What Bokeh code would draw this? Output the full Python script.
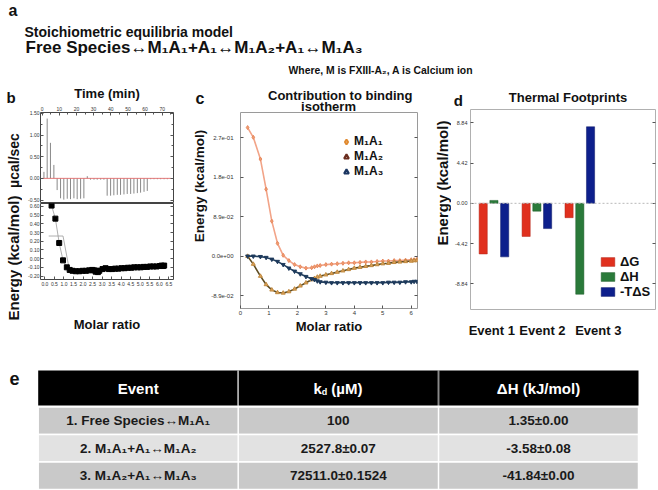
import math
from bokeh.plotting import figure
from bokeh.models import (Range1d, LinearAxis, FixedTicker, NumeralTickFormatter,
                          Label, Legend, LegendItem, Span, ColumnDataSource)
from bokeh.layouts import row, column
from bokeh.transform import dodge
from bokeh.core.properties import value
from bokeh.embed import file_html
from bokeh.resources import INLINE

FONT = "Liberation Sans"
INK = "#111111"
NAN = float("nan")

# ---------------- data ----------------
# panel b (top): raw thermogram, time in min, power in ucal/sec
inj_time = [1.0, 2.9, 4.8, 6.8, 8.7, 10.7, 12.6, 14.6, 16.5, 18.5, 20.4, 22.4, 24.3,
            26.3, 28.2, 30.2, 32.1, 34.1, 36.0, 37.9, 39.9, 41.8, 43.8, 45.7, 47.7,
            49.6, 51.6, 53.5, 55.5, 57.4, 59.4, 61.3, 63.3, 65.2, 67.2, 69.1, 71.1, 73.0]
inj_peak = [0.15, 1.38, 0.82, 0.31, -0.27, -0.46, -0.49, -0.47, -0.48, -0.46, -0.48, -0.47, -0.46,
            0.05, -0.03, -0.03, -0.03, -0.03, -0.03, -0.40, -0.40, -0.39, -0.38, -0.38, -0.37,
            -0.36, -0.36, -0.35, -0.34, -0.33, -0.31, -0.29, -0.02, -0.02, -0.02, -0.02, -0.02, -0.02]
base_time = [0, 75]
base_power = [0, 0]
time_ticks = [0, 10, 20, 30, 40, 50, 60, 70]
time_minor = [5, 15, 25, 35, 45, 55, 65, 75]
power_ticks = [-0.5, 0.0, 0.5, 1.0, 1.5]
power_minor = [-0.25, 0.25, 0.75, 1.25]

# panel b (bottom): integrated heats
ratio_b = [0.35, 0.55, 0.75, 0.95, 1.15, 1.30, 1.45, 1.62, 1.80, 1.98, 2.15, 2.32, 2.48, 2.58,
           2.66, 2.72, 2.78, 2.85, 3.02, 3.18, 3.35, 3.52, 3.68, 3.85, 4.02, 4.18, 4.35, 4.52,
           4.68, 4.85, 5.02, 5.18, 5.35, 5.52, 5.68, 5.85, 6.02, 6.12, 6.20, 6.25]
heat_b = [0.61, 0.46, 0.18, -0.02, -0.10, -0.13, -0.14, -0.145, -0.145, -0.14, -0.14, -0.135,
          -0.13, -0.135, -0.15, -0.14, -0.155, -0.14, -0.12, -0.11, -0.12, -0.12, -0.115, -0.115,
          -0.11, -0.11, -0.105, -0.105, -0.10, -0.10, -0.10, -0.095, -0.095, -0.09, -0.09, -0.09,
          -0.085, -0.08, -0.085, -0.08]
fit_b_x = [0.2, 0.95, 1.3]
fit_b_y = [0.26, 0.26, -0.15]
ratio_ticks = [0.0, 0.5, 1.0, 1.5, 2.0, 2.5, 3.0, 3.5, 4.0, 4.5, 5.0, 5.5, 6.0, 6.5]
heat_ticks = [-0.2, -0.1, 0.0, 0.1, 0.2, 0.3, 0.4, 0.5, 0.6]

# panel c: contribution to binding isotherm
c_ratio = [0.25, 0.45, 0.7, 0.9, 1.1, 1.3, 1.5, 1.7, 1.9, 2.1, 2.3, 2.5, 2.6, 2.7, 2.8,
           3.0, 3.2, 3.4, 3.6, 3.8, 4.0, 4.2, 4.4, 4.6, 4.8, 5.0, 5.2, 5.4, 5.6, 5.8, 6.0, 6.1, 6.2]
c_m1a1 = [0.290, 0.268, 0.219, 0.151, 0.079, 0.029, 0.002, -0.010, -0.019, -0.024, -0.027,
          -0.026, -0.024, -0.022, -0.021, -0.019, -0.018, -0.017, -0.016, -0.015, -0.015,
          -0.014, -0.013, -0.013, -0.012, -0.011, -0.011, -0.010, -0.010, -0.009, -0.008,
          -0.008, -0.007]
c_m1a2 = [0.0, -0.018, -0.045, -0.064, -0.076, -0.082, -0.083, -0.080, -0.074, -0.067, -0.060,
          -0.053, -0.050, -0.047, -0.045, -0.042, -0.039, -0.036, -0.033, -0.030, -0.027,
          -0.025, -0.023, -0.021, -0.019, -0.017, -0.016, -0.014, -0.013, -0.012, -0.011,
          -0.010, -0.010]
c_m1a3 = [0.0, 0.0, -0.001, -0.003, -0.007, -0.012, -0.019, -0.027, -0.034, -0.040, -0.046,
          -0.051, -0.053, -0.056, -0.058, -0.059, -0.060, -0.060, -0.060, -0.060, -0.060,
          -0.060, -0.060, -0.060, -0.060, -0.060, -0.059, -0.059, -0.059, -0.058, -0.058,
          -0.057, -0.057]
c_series = ["M\u2081A\u2081", "M\u2081A\u2082", "M\u2081A\u2083"]
c_x_ticks = [0, 1, 2, 3, 4, 5, 6]
c_y_ticks = [-0.089, 0.0, 0.089, 0.178, 0.267]
c_y_labels = ["-8.9e-02", "0.0e+00", "8.9e-02", "1.8e-01", "2.7e-01"]

# panel d: thermal footprints (kcal/mol)
events = ["Event 1", "Event 2", "Event 3"]
event_idx = [1, 2, 3]
dG = [-5.57, -3.64, -1.58]
dH = [0.32, -0.86, -10.00]
mTdS = [-5.89, -2.78, 8.42]
d_series = ["\u0394G", "\u0394H", "-T\u0394S"]
d_y_ticks = [-8.84, -4.42, 0.0, 4.42, 8.84]

# panel e: table
tbl_header = ["Event", "(\u00b5M)", "\u0394H (kJ/mol)"]
tbl_event = ["1. Free Species\u2194M\u2081A\u2081", "2. M\u2081A\u2081+A\u2081\u2194M\u2081A\u2082",
             "3. M\u2081A\u2082+A\u2081\u2194M\u2081A\u2083"]
tbl_kd = ["100", "2527.8\u00b10.07", "72511.0\u00b10.1524"]
tbl_dh = ["1.35\u00b10.00", "-3.58\u00b10.08", "-41.84\u00b10.00"]

# ---------------- helpers ----------------
def make_fig(w, h, xr=None, yr=None, bl=0, br=0, bt=0, bb=0, outline=None):
    if xr is None:
        xr = Range1d(0, w)
    if yr is None:
        yr = Range1d(h, 0)
    p = figure(width=w, height=h, x_range=xr, y_range=yr, x_axis_type=None, y_axis_type=None,
               output_backend="svg", toolbar_location=None,
               min_border_left=bl, min_border_right=br, min_border_top=bt, min_border_bottom=bb)
    p.outline_line_color = outline
    p.outline_line_width = 1
    p.background_fill_color = "white"
    p.border_fill_color = "white"
    return p


def make_axis(ticks, minor=None, fmt=None, size="5px", standoff=2, label=None,
              label_size="13px", label_standoff=5, overrides=None):
    ax = LinearAxis(ticker=FixedTicker(ticks=ticks, minor_ticks=minor or []))
    ax.axis_line_color = None
    ax.major_tick_in = 3
    ax.major_tick_out = 0
    ax.minor_tick_in = 2
    ax.minor_tick_out = 0
    ax.major_tick_line_color = "#555555"
    ax.minor_tick_line_color = "#555555"
    if fmt:
        ax.formatter = NumeralTickFormatter(format=fmt)
    if overrides:
        ax.major_label_overrides = overrides
    ax.major_label_text_font = FONT
    ax.major_label_text_color = "#333333"
    ax.major_label_text_font_size = size
    ax.major_label_standoff = standoff
    if label:
        ax.axis_label = label
        ax.axis_label_text_font = FONT
        ax.axis_label_text_font_size = label_size
        ax.axis_label_text_font_style = "bold"
        ax.axis_label_text_color = INK
        ax.axis_label_standoff = label_standoff
    return ax


def tick_only_axis(ticks, minor=None):
    """Inward tick marks for the right side of a box, with blank labels."""
    return make_axis(ticks, minor, standoff=0, overrides={t: "" for t in ticks})


def lab(p, x, y, text, size, align="left", baseline="alphabetic", angle=0.0, color=INK,
        style="bold"):
    p.add_layout(Label(x=x, y=y, text=text, text_font=FONT, text_font_size=f"{size}px",
                       text_font_style=style, text_align=align, text_baseline=baseline,
                       angle=angle, text_color=color))


# ---------------- header (a) ----------------
head = make_fig(658, 80)
lab(head, 8, 10, "a", 16)
lab(head, 24, 31, "Stoichiometric equilibria model", 14)
lab(head, 25, 47, "Free Species\u2194M\u2081A\u2081+A\u2081\u2194M\u2081A\u2082+A\u2081\u2194M\u2081A\u2083", 17)
lab(head, 288, 70, "Where, M is FXIII-A\u2082, A is Calcium ion", 10.4)

# ---------------- panel b ----------------
b_lab = make_fig(22, 260)
lab(b_lab, 6, 17, "b", 15)
lab(b_lab, 13.5, 80, "\u00b5cal/sec", 14, align="center", baseline="middle", angle=math.pi / 2)
lab(b_lab, 13, 177.5, "Energy (kcal/mol)", 15, align="center", baseline="middle",
    angle=math.pi / 2)

b_up = make_fig(168, 123, Range1d(-1, 76.6), Range1d(-0.58, 1.52), bl=18, br=17, bt=32, bb=0,
                outline="#444444")
b_up.add_layout(make_axis(time_ticks, time_minor, label="Time (min)", label_size="13px",
                          label_standoff=3), "above")
b_up.add_layout(make_axis(power_ticks, power_minor, fmt="0.00", standoff=1), "left")
b_up.add_layout(tick_only_axis(power_ticks, power_minor), "right")
raw_src = ColumnDataSource(dict(t=inj_time, peak=inj_peak))
b_up.segment(x0="t", y0=0, x1="t", y1="peak", source=raw_src, line_color="#7a7a7a",
             line_width=0.9)
b_up.line(base_time, base_power, line_color="#e06a6a", line_width=0.9)

b_low = make_fig(168, 137, Range1d(-0.23, 6.74), Range1d(-0.24, 0.634), bl=18, br=17, bt=0,
                 bb=61, outline="#444444")
b_low.add_layout(make_axis(ratio_ticks, fmt="0.0", label="Molar ratio", label_size="13px",
                           label_standoff=28), "below")
b_low.add_layout(make_axis(heat_ticks, fmt="0.00", standoff=1), "left")
b_low.add_layout(tick_only_axis(heat_ticks), "right")
b_low.line(fit_b_x, fit_b_y, line_color="#9a9a9a", line_width=0.8)
b_low.line(ratio_b, heat_b, line_color="#9a9a9a", line_width=0.8)
b_low.scatter(ratio_b, heat_b, marker="square", size=5, fill_color="#000000",
              line_color="#000000")

panel_b = row(b_lab, column(b_up, b_low))

# ---------------- panel c ----------------
c_top = make_fig(230, 32)
lab(c_top, 5, 18, "c", 16)
lab(c_top, 149.7, 14.5, "Contribution to binding", 13, align="center")
lab(c_top, 138, 25.5, "isotherm", 13, align="center")

c_lab = make_fig(18, 228)
lab(c_lab, 9, 85.5, "Energy (kcal/mol)", 13.5, align="center", baseline="middle",
    angle=math.pi / 2)

cfig = make_fig(212, 228, Range1d(0, 6.22), Range1d(-0.118, 0.324), bl=31, br=3, bt=0, bb=32,
                outline="#9a9a9a")
cfig.add_layout(make_axis(c_x_ticks, label="Molar ratio", size="6px", label_standoff=1),
                "below")
cfig.add_layout(make_axis(c_y_ticks, size="6px", standoff=7,
                          overrides=dict(zip(c_y_ticks, c_y_labels))), "left")
cfig.add_layout(tick_only_axis(c_y_ticks), "right")

cfig.line(c_ratio, c_m1a1, line_color="#f2a488", line_width=1.6)
cfig.scatter(c_ratio, c_m1a1, marker="diamond", size=4, fill_color="#f0a070",
             line_color="#e88860")
cfig.line(c_ratio, c_m1a2, line_color="#5e4c22", line_width=1.6)
cfig.scatter(c_ratio, c_m1a2, marker="triangle", size=4, fill_color="#dca25a",
             line_color="#c08a40")
cfig.line(c_ratio, c_m1a3, line_color="#22405e", line_width=1.6)
cfig.scatter(c_ratio, c_m1a3, marker="inverted_triangle", size=4, fill_color="#1e3a5c",
             line_color="#1e3a5c")

leg_a = cfig.scatter(x=[NAN], y=[NAN], marker="diamond", size=11, fill_color="#fbe3c8",
                     line_color="#e08a30", line_width=2)
leg_b = cfig.scatter(x=[NAN], y=[NAN], marker="triangle", size=10, fill_color="#f3dcd4",
                     line_color="#6a2c1e", line_width=2)
leg_c = cfig.scatter(x=[NAN], y=[NAN], marker="triangle", angle=math.pi / 2, size=10,
                     fill_color="#c9d5e8", line_color="#1a3560", line_width=2)
c_leg = Legend(items=[LegendItem(label=s, renderers=[r]) for s, r in
                      zip(c_series, [leg_a, leg_b, leg_c])],
               location=(100, 129.5), glyph_width=12, glyph_height=15, label_height=15,
               label_width=20, label_standoff=2, spacing=0, padding=0, margin=0,
               border_line_color=None, background_fill_alpha=0,
               label_text_font=FONT, label_text_font_size="12px",
               label_text_font_style="bold", label_text_color=INK)
cfig.add_layout(c_leg)

panel_c = column(c_top, row(c_lab, cfig))

# ---------------- panel d ----------------
d_top = make_fig(238, 29)
lab(d_top, 33.3, 20, "d", 15)
lab(d_top, 147.5, 16.7, "Thermal Footprints", 13, align="center")

d_lab = make_fig(31, 231)
lab(d_lab, 22, 85, "Energy (kcal/mol)", 15, align="center", baseline="middle",
    angle=math.pi / 2)

dfig = make_fig(207, 231, Range1d(0.454, 4.763), Range1d(-11.68, 10.32), bl=17, br=3, bt=0,
                bb=27, outline="#b0b0b0")
dfig.add_layout(make_axis(d_y_ticks, fmt="0.00", size="5.5px", standoff=3), "left")
dfig.add_layout(tick_only_axis(d_y_ticks), "right")
ev_pos = [0.95, 2.13, 3.43]
ev_axis = LinearAxis(ticker=FixedTicker(ticks=ev_pos),
                     major_label_overrides=dict(zip(ev_pos, events)))
ev_axis.axis_line_color = None
ev_axis.major_tick_line_color = None
ev_axis.major_label_text_font = FONT
ev_axis.major_label_text_font_size = "13px"
ev_axis.major_label_text_font_style = "bold"
ev_axis.major_label_text_color = INK
ev_axis.major_label_standoff = 7
dfig.add_layout(ev_axis, "below")
dfig.add_layout(Span(location=0, dimension="width", line_color="#b8b8b8", line_dash="2 2",
                     line_width=1))

d_src = ColumnDataSource(dict(idx=event_idx, dG=dG, dH=dH, mTdS=mTdS))
r_g = dfig.vbar(x=dodge("idx", -0.25, range=dfig.x_range), top="dG", bottom=0, width=0.19,
                source=d_src, fill_color="#e0301e", line_color="#b02418", line_width=0.5)
r_h = dfig.vbar(x=dodge("idx", 0.0, range=dfig.x_range), top="dH", bottom=0, width=0.19,
                source=d_src, fill_color="#2a7a3a", line_color="#1d5a28", line_width=0.5)
r_s = dfig.vbar(x=dodge("idx", 0.25, range=dfig.x_range), top="mTdS", bottom=0, width=0.19,
                source=d_src, fill_color="#0d1f8c", line_color="#0a1666", line_width=0.5)
d_leg = Legend(items=[LegendItem(label=s, renderers=[r]) for s, r in
                      zip(d_series, [r_g, r_h, r_s])],
               location=(129, 10.1), glyph_width=17, glyph_height=11, label_height=15,
               label_width=20, label_standoff=4, spacing=0, padding=0, margin=0,
               border_line_color=None, background_fill_alpha=0,
               label_text_font=FONT, label_text_font_size="13px",
               label_text_font_style="bold", label_text_color=INK)
dfig.add_layout(d_leg)

panel_d = column(d_top, row(d_lab, dfig))

mid = row(panel_b, panel_c, panel_d)

# ---------------- table (e) ----------------
tab = make_fig(658, 150)
col_l = [37.7, 237.7, 438.0]
col_r = [237.7, 438.0, 638.0]
col_c = [(a + b) / 2 for a, b in zip(col_l, col_r)]
head_top, head_bot = 30, 65
row_top = [66.5, 94, 121.5]
row_h = 27.5
row_fill = ["#c9c9c9", "#e2e2e2", "#c9c9c9"]

tab.quad(left=[col_l[0]], right=[col_r[2]], top=[head_top], bottom=[head_bot],
         fill_color="#000000", line_color=None)
tab.quad(left=[col_l[0]] * 3, right=[col_r[2]] * 3, top=row_top,
         bottom=[t + row_h for t in row_top], fill_color=row_fill, line_color="white",
         line_width=1.5)
tab.segment(x0=col_r[:2], y0=[head_top] * 2, x1=col_r[:2], y1=[150] * 2,
            line_color="#ffffff", line_width=1.5)
tab.segment(x0=col_r[:2], y0=[head_top] * 2, x1=col_r[:2], y1=[head_bot] * 2,
            line_color="#8a8a8a", line_width=1)

hc = (head_top + head_bot) / 2
tab.text(x=[col_c[0], col_c[2]], y=[hc, hc], text=[tbl_header[0], tbl_header[2]],
         text_font=value(FONT), text_font_size="15px", text_font_style="bold",
         text_color="white", text_align="center", text_baseline="middle")
# k_d (uM) header built from pieces
tab.text(x=[col_c[1] - 24.85], y=[hc], text=["k"], text_font=value(FONT),
         text_font_size="15px", text_font_style="bold", text_color="white",
         text_align="left", text_baseline="middle")
tab.text(x=[col_c[1] - 16.55], y=[hc + 4], text=["d"], text_font=value(FONT),
         text_font_size="9px", text_font_style="bold", text_color="white",
         text_align="left", text_baseline="middle")
tab.text(x=[col_c[1] - 7.0], y=[hc], text=[tbl_header[1]], text_font=value(FONT),
         text_font_size="15px", text_font_style="bold", text_color="white",
         text_align="left", text_baseline="middle")

rc = [t + row_h / 2 for t in row_top]
for ci, texts in enumerate([tbl_event, tbl_kd, tbl_dh]):
    tab.text(x=[col_c[ci]] * 3, y=rc, text=texts, text_font=value(FONT),
             text_font_size="13.5px", text_font_style="bold", text_color="#1a1a1a",
             text_align="center", text_baseline="middle")
lab(tab, 9, 38.3, "e", 18)

page = column(head, mid, tab)
open("out.html", "w").write(file_html(page, INLINE))
